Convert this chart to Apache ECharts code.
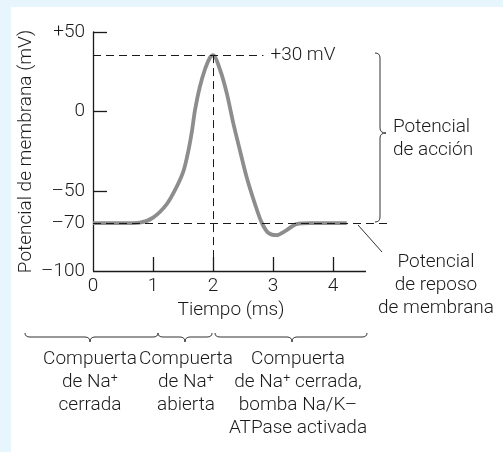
<!DOCTYPE html>
<html>
<head>
<meta charset="utf-8">
<script src="https://cdn.jsdelivr.net/npm/echarts@6/dist/echarts.min.js"></script>
<style>
  html, body { margin: 0; padding: 0; background: #e7f5fc; }
  #ecAction { width: 503px; height: 452px; }
</style>
</head>
<body>
<div id="ecAction"></div>
<script>
// tiempo (ms) y potencial de membrana (mV)
var times = [0, 0.5, 0.78, 1.0, 1.23, 1.39, 1.51, 1.59, 1.65, 1.7, 1.78, 1.87, 1.95, 2.0, 2.12, 2.23, 2.34, 2.45, 2.56, 2.7, 2.81, 2.92, 3.06, 3.2, 3.39, 3.62, 4.23];
var potentials = [-70, -70, -69.6, -66.5, -58, -47.5, -37, -24.5, -12, 1, 15.5, 27, 34, 35.5, 26, 11.5, -7.5, -24.5, -41, -58, -69.5, -76, -77.5, -75, -70.6, -70, -70];
var xTickLabels = [0, 1, 2, 3, 4];
var xTickMarks = [1, 2, 3, 4];
var yTickLabels = [-100, -70, -50, 0, 50];
var yTickMarks = [-50, 0, 50];
var peakValue = 35.5;
var peakTime = 2;
var restValue = -70;

var FONT = 'Roboto';
var INK = '#1a1a1a';

function txt(text, x, y, align) {
    return {
        type: 'text', x: x, y: y, silent: true,
        style: {
            text: text, align: align, verticalAlign: 'top',
            fontFamily: FONT, fontWeight: 300, fontSize: 19, lineHeight: 23, fill: INK
        }
    };
}

function seg(x1, y1, x2, y2) {
    return { type: 'line', silent: true, shape: { x1: x1, y1: y1, x2: x2, y2: y2 }, style: { stroke: '#333', lineWidth: 1 } };
}

function curve(x1, y1, cx, cy, x2, y2) {
    return { type: 'bezierCurve', silent: true, shape: { x1: x1, y1: y1, cpx1: cx, cpy1: cy, x2: x2, y2: y2 }, style: { stroke: '#333', lineWidth: 1, fill: 'none' } };
}

// llave vertical que apunta a la derecha
function braceRight(xc, y0, ym, y1) {
    return { type: 'group', children: [
        curve(xc - 5, y0, xc, y0, xc, y0 + 5),
        seg(xc, y0 + 5, xc, ym - 5),
        curve(xc, ym - 5, xc, ym, xc + 6, ym),
        curve(xc + 6, ym, xc, ym, xc, ym + 5),
        seg(xc, ym + 5, xc, y1 - 5),
        curve(xc, y1 - 5, xc, y1, xc - 5, y1)
    ]};
}

// llave horizontal que apunta hacia abajo
function braceDown(x0, xm, x1, yl) {
    return { type: 'group', children: [
        curve(x0, yl - 4, x0, yl, x0 + 5, yl),
        seg(x0 + 5, yl, xm - 5, yl),
        curve(xm - 5, yl, xm, yl, xm, yl + 5),
        curve(xm, yl + 5, xm, yl, xm + 5, yl),
        seg(xm + 5, yl, x1 - 5, yl),
        curve(x1 - 5, yl, x1, yl, x1, yl - 4)
    ]};
}

var seriesData = times.map(function (t, i) { return [t, potentials[i]]; });

var dashStyle = { color: INK, width: 1, type: [8, 5] };

var option = {
    animation: false,
    backgroundColor: '#e7f5fc',
    textStyle: { fontFamily: FONT },
    grid: {
        left: 93, top: 32, width: 300, height: 239,
        containLabel: false, outerBoundsMode: 'none'
    },
    xAxis: {
        type: 'value',
        min: 0,
        max: 5,
        name: 'Tiempo (ms)',
        nameLocation: 'middle',
        nameGap: 30,
        nameMoveOverlap: false,
        nameTextStyle: { fontFamily: FONT, fontWeight: 300, fontSize: 19, color: INK, padding: [0, 24, 0, 0] },
        axisLine: { show: false, onZero: false },
        axisTick: { show: true, inside: true, length: 14, customValues: xTickMarks, lineStyle: { color: INK, width: 1.3 } },
        axisLabel: { customValues: xTickLabels, margin: 6, fontFamily: FONT, fontWeight: 300, fontSize: 19, color: INK },
        splitLine: { show: false }
    },
    yAxis: {
        type: 'value',
        min: -100,
        max: 50,
        name: 'Potencial de membrana (mV)',
        nameLocation: 'middle',
        nameGap: 57,
        nameMoveOverlap: false,
        nameTextStyle: { fontFamily: FONT, fontWeight: 300, fontSize: 19, color: INK },
        axisLine: { show: true, onZero: false, lineStyle: { color: INK, width: 1.3 } },
        axisTick: { show: true, inside: true, length: 14, customValues: yTickMarks, lineStyle: { color: INK, width: 1.3 } },
        axisLabel: {
            customValues: yTickLabels,
            margin: 8,
            fontFamily: FONT, fontWeight: 300, fontSize: 19, color: INK,
            formatter: function (v) {
                if (v > 0) return '+' + v;
                if (v < 0) return '\u2013' + (-v);
                return '' + v;
            }
        },
        splitLine: { show: false }
    },
    series: [
        {
            type: 'line',
            data: seriesData,
            smooth: 0.3,
            showSymbol: false,
            silent: true,
            lineStyle: { color: '#8d8d8d', width: 3.8 },
            markLine: {
                silent: true,
                symbol: ['none', 'none'],
                label: { show: false },
                lineStyle: dashStyle,
                data: [
                    [{ coord: [0, peakValue], label: { show: true, position: 'end', distance: 7, formatter: '+30 mV', fontFamily: FONT, fontWeight: 300, fontSize: 19, color: INK } },
                     { coord: [2.84, peakValue] }],
                    [{ coord: [peakTime, peakValue] }, { coord: [peakTime, -100] }],
                    [{ coord: [0, restValue] }, { coord: [4.95, restValue] }],
                    [{ coord: [0, -100], lineStyle: { type: 'solid', width: 1.3, color: INK } }, { coord: [4.55, -100] }]
                ]
            }
        }
    ],
    graphic: [
        { type: 'rect', z: -10, silent: true, shape: { x: 11, y: 7, width: 492, height: 445 }, style: { fill: '#ffffff' } },
        braceRight(380, 53, 133, 222),
        txt('Potencial\nde acción', 393, 116, 'left'),
        seg(358, 225, 382, 252),
        txt('Potencial\nde reposo\nde membrana', 436, 251, 'center'),
        braceDown(25, 90, 158, 337),
        braceDown(158, 185, 212, 337),
        braceDown(215, 292, 367, 337),
        txt('Compuerta\nde Na\u207A\ncerrada', 90, 348, 'center'),
        txt('Compuerta\nde Na\u207A\nabierta', 186, 348, 'center'),
        txt('Compuerta\nde Na\u207A cerrada,\nbomba Na/K\u2013\nATPase activada', 298, 348, 'center')
    ]
};

var chart = echarts.init(document.getElementById('ecAction'));
chart.setOption(option);
window.addEventListener('resize', function () {
    chart.resize();
});
</script>
</body>
</html>
